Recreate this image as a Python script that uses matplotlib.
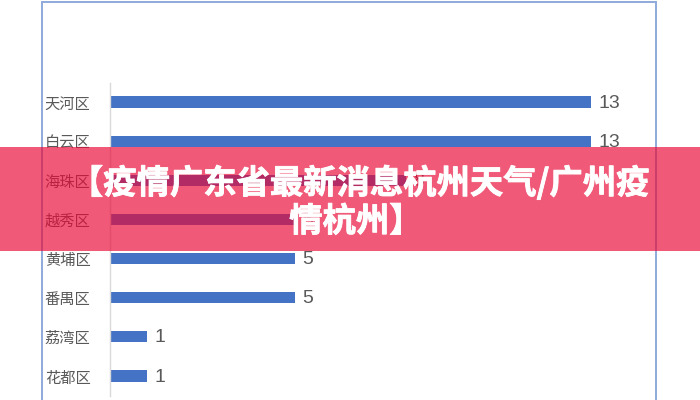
import matplotlib
matplotlib.use('Agg')
import matplotlib.pyplot as plt
import matplotlib.patheffects as pe
from matplotlib.patches import Rectangle

plt.rcParams['font.family'] = ['Noto Sans CJK SC', 'DejaVu Sans']

## data
districts = ['天河区', '白云区', '海珠区', '越秀区', '黄埔区', '番禺区', '荔湾区', '花都区']
cases = [13, 13, 8, 5, 5, 5, 1, 1]
banner_lines = ['【疫情广东省最新消息杭州天气/广州疫', '情杭州】']

W, H = 700, 400
fig = plt.figure(figsize=(7, 4), dpi=100)
fig.patch.set_facecolor('white')

## outer chart frame (runs off the bottom)
fig.add_artist(Rectangle((42 / W, -0.05), (656 - 42) / W, 1.05 - 2 / H,
                         transform=fig.transFigure, fill=False,
                         edgecolor='#8EA9DB', linewidth=1.4, zorder=1))

## plot area
ax = fig.add_axes([110 / W, 1 - 395.5 / H, 518 / W, (395.5 - 82.5) / H])
ax.set_facecolor('none')
ypos = list(range(len(districts)))
ax.barh(ypos, cases, height=0.29, color='#4472C4', zorder=2)
for y, v in zip(ypos, cases):
    ax.text(v + 0.2, y + 0.03, str(v), va='center', ha='left', fontsize=14,
            color='#595959', family=['Liberation Sans', 'DejaVu Sans'])
ax.set_xlim(0, 14)
ax.set_ylim(len(districts) - 0.5, -0.5)
ax.set_yticks(ypos)
ax.set_yticklabels(districts, fontsize=11, color='#595959')
ax.tick_params(axis='y', length=0, pad=14)
ax.set_xticks([])
for s in ['top', 'right', 'bottom']:
    ax.spines[s].set_visible(False)
ax.spines['left'].set_color('#D9D9D9')
ax.spines['left'].set_linewidth(1.0)

## pink title banner over the chart
fig.add_artist(Rectangle((0, 1 - 251 / H), 1, (251 - 147) / H,
                         transform=fig.transFigure, facecolor='#E90936',
                         alpha=0.67, edgecolor='none', zorder=10))
thick = [pe.withStroke(linewidth=0.6, foreground='white')]
fig.text(360 / W, 1 - 183 / H, banner_lines[0], ha='center', va='center',
         fontsize=24, fontweight='heavy', color='white', zorder=11,
         path_effects=thick)
fig.text(356 / W, 1 - 222 / H, banner_lines[1], ha='center', va='center',
         fontsize=24, fontweight='heavy', color='white', zorder=11,
         path_effects=thick)

fig.savefig('out.png', dpi=100)
